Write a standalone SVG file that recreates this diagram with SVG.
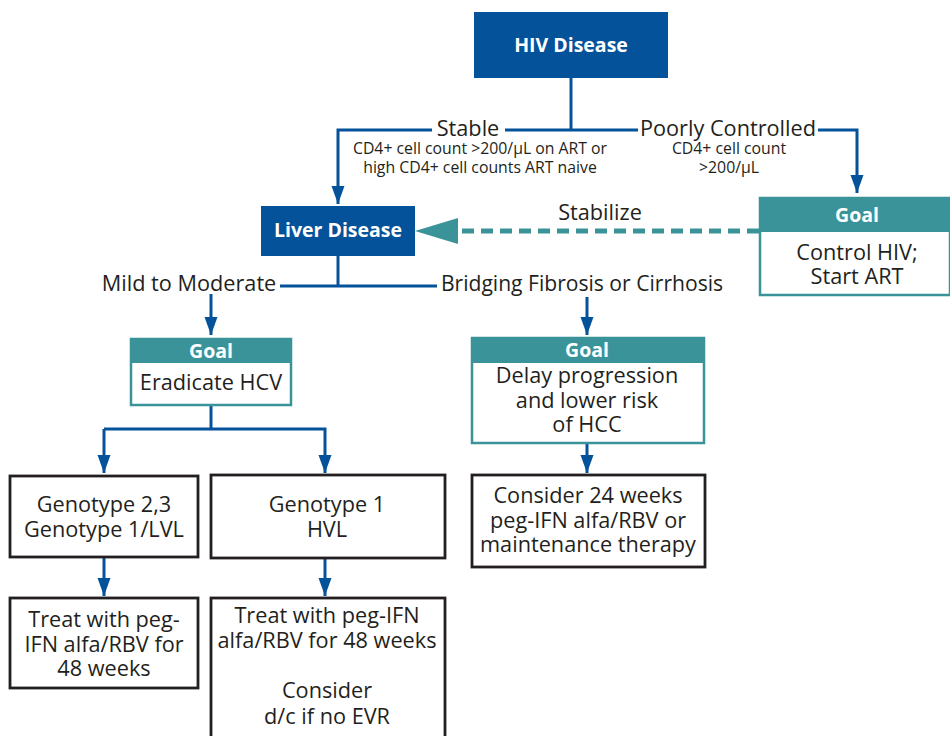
<svg xmlns="http://www.w3.org/2000/svg" width="950" height="736" viewBox="0 0 950 736">
<style>
text{font-family:"Open Sans","Noto Sans","Liberation Sans",sans-serif;fill:#231f20;text-anchor:middle}
.t{font-size:21.7px}
.s{font-size:15.8px}
.h{font-size:19.5px;font-weight:bold;fill:#fff}
.blue{fill:#04539a}
.teal{fill:#3a9399}
.gbox{fill:#fff;stroke:#3a9399;stroke-width:2.5}
.bbox{fill:#fff;stroke:#231f20;stroke-width:2.8}
.ln{fill:none;stroke:#04539a;stroke-width:3}
</style>
<defs>
<marker id="ah" markerUnits="userSpaceOnUse" markerWidth="18" markerHeight="14" refX="18" refY="6.5" orient="auto" viewBox="0 0 18 13">
<path d="M0,0 L18,6.5 L0,13 Z" fill="#04539a"/>
</marker>
</defs>
<rect width="950" height="736" fill="#fff"/>

<g id="connectors">
<line class="ln" x1="571" y1="78" x2="571" y2="130"/>
<polyline class="ln" points="432,130 338,130 338,204" marker-end="url(#ah)"/>
<line class="ln" x1="505" y1="130" x2="638" y2="130"/>
<polyline class="ln" points="818,130 857,130 857,193" marker-end="url(#ah)"/>
<line x1="759" y1="231" x2="460" y2="231" stroke="#3a9399" stroke-width="5" stroke-dasharray="12,7"/>
<path d="M415,231 L458,218 L458,244 Z" fill="#3a9399"/>
<line class="ln" x1="338" y1="256" x2="338" y2="286"/>
<line class="ln" x1="280" y1="286" x2="437" y2="286"/>
<line class="ln" x1="211" y1="294" x2="211" y2="335" marker-end="url(#ah)"/>
<line class="ln" x1="587" y1="297" x2="587" y2="335" marker-end="url(#ah)"/>
<line class="ln" x1="211" y1="405" x2="211" y2="429"/>
<polyline class="ln" points="104,429 325,429 325,473" marker-end="url(#ah)"/>
<line class="ln" x1="104" y1="429" x2="104" y2="473" marker-end="url(#ah)"/>
<line class="ln" x1="587" y1="443" x2="587" y2="473" marker-end="url(#ah)"/>
<line class="ln" x1="104" y1="557" x2="104" y2="596" marker-end="url(#ah)"/>
<line class="ln" x1="325" y1="559" x2="325" y2="596" marker-end="url(#ah)"/>
</g>

<g id="labels">
<text class="t" x="468" y="136">Stable</text>
<text class="s" x="480" y="154">CD4+ cell count &gt;200/μL on ART or</text>
<text class="s" x="480" y="173">high CD4+ cell counts ART naive</text>
<text class="t" x="728" y="136">Poorly Controlled</text>
<text class="s" x="729" y="154">CD4+ cell count</text>
<text class="s" x="729" y="173">&gt;200/μL</text>
<text class="t" x="600" y="220">Stabilize</text>
<text class="t" x="189" y="291">Mild to Moderate</text>
<text class="t" x="582" y="291" style="font-size:21.1px">Bridging Fibrosis or Cirrhosis</text>
</g>

<g id="hiv">
<rect class="blue" x="474" y="12" width="194" height="66"/>
<text class="h" x="571" y="52">HIV Disease</text>
</g>

<g id="liver">
<rect class="blue" x="261" y="206" width="154" height="50"/>
<text class="h" x="338" y="237">Liver Disease</text>
</g>

<g id="goal-hiv">
<rect class="gbox" x="760" y="198" width="190" height="97"/>
<rect class="teal" x="759" y="197" width="191" height="35"/>
<text class="h" x="857" y="222">Goal</text>
<text class="t" x="857" y="260">Control HIV;</text>
<text class="t" x="857" y="284">Start ART</text>
</g>

<g id="goal-eradicate">
<rect class="gbox" x="131" y="339" width="160" height="66"/>
<rect class="teal" x="130" y="338" width="162" height="25"/>
<text class="h" x="211" y="358">Goal</text>
<text class="t" x="211" y="390">Eradicate HCV</text>
</g>

<g id="goal-delay">
<rect class="gbox" x="472" y="338" width="232" height="105"/>
<rect class="teal" x="471" y="337" width="234" height="26"/>
<text class="h" x="587" y="357">Goal</text>
<text class="t" x="587" y="383">Delay progression</text>
<text class="t" x="587" y="408">and lower risk</text>
<text class="t" x="587" y="432">of HCC</text>
</g>

<g id="genotype23">
<rect class="bbox" x="10" y="476" width="188" height="81"/>
<text class="t" x="104" y="512">Genotype 2,3</text>
<text class="t" x="104" y="537">Genotype 1/LVL</text>
</g>

<g id="genotype1">
<rect class="bbox" x="211" y="475" width="234" height="83"/>
<text class="t" x="327" y="512">Genotype 1</text>
<text class="t" x="327" y="537">HVL</text>
</g>

<g id="consider24">
<rect class="bbox" x="472" y="475" width="233" height="92"/>
<text class="t" x="588" y="503">Consider 24 weeks</text>
<text class="t" x="588" y="528">peg-IFN alfa/RBV or</text>
<text class="t" x="588" y="552">maintenance therapy</text>
</g>

<g id="treat23">
<rect class="bbox" x="10" y="598" width="188" height="90"/>
<text class="t" x="104" y="627">Treat with peg-</text>
<text class="t" x="104" y="652">IFN alfa/RBV for</text>
<text class="t" x="104" y="676">48 weeks</text>
</g>

<g id="treat1">
<rect class="bbox" x="211" y="598" width="234" height="150"/>
<text class="t" x="327" y="623">Treat with peg-IFN</text>
<text class="t" x="327" y="648">alfa/RBV for 48 weeks</text>
<text class="t" x="327" y="698">Consider</text>
<text class="t" x="327" y="724">d/c if no EVR</text>
</g>
</svg>
